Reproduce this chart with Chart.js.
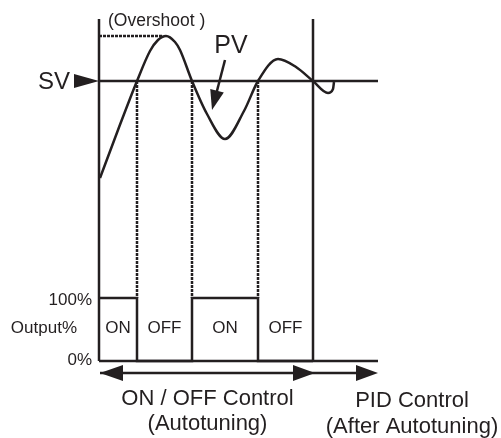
<!DOCTYPE html>
<html>
<head>
<meta charset="utf-8">
<script src="https://cdn.jsdelivr.net/npm/chart.js@4/dist/chart.umd.min.js"></script>
<style>
  html, body { margin: 0; padding: 0; background: #fff; }
  #wrap { width: 501px; height: 438px; }
</style>
</head>
<body>
<div id="wrap"><canvas id="chart"></canvas></div>
<script>
// Tiempos de conmutacion ON/OFF durante el autotuning (unidades de tiempo)
const switchTimes = [0, 3.8, 9.3, 15.9, 21.4];
const outputLevels = [100, 0, 100, 0];      // salida % en cada intervalo
const outputStates = ['ON', 'OFF', 'ON', 'OFF'];
const pidEnd = 27.9;                        // fin del tramo PID
const axisTop = 6.2;                        // extremo superior de los ejes verticales
const svValue = 0;                          // consigna (SV)

// Curva PV (desviacion respecto a SV)
const pvTime  = [0.1, 1.9, 3.8, 5.1, 5.9, 6.7, 7.6, 8.1, 9.3, 10.8, 12.6, 14.5, 15.9, 17.9, 19.7, 21.4, 22.9, 23.4, 23.5];
const pvValue = [-9.7, -4.9, 0, 3.0, 4.1, 4.5, 3.9, 3.1, 0, -3.3, -5.8, -3.0, 0, 2.2, 1.4, 0, -1.2, -0.8, -0.1];

const outTickLabels = ['100%', 'Output%', '0%'];
const phaseLabels = [['ON / OFF Control', '(Autotuning)'], ['PID Control', '(After Autotuning)']];

// Banda de salida dibujada bajo la curva PV
const OUT_ZERO = -28.0;
const OUT_SPAN = 6.3;
function outY(p) { return OUT_ZERO + p / 100 * OUT_SPAN; }

const ink = '#231f20';
const fontFamily = '"Liberation Sans", Arial, Helvetica, sans-serif';

const pvPoints = pvTime.map((t, i) => ({ x: t, y: pvValue[i] }));
const peakIdx = pvValue.indexOf(Math.max(...pvValue));

// Escalones de salida
const outPoints = [];
outputLevels.forEach((lvl, i) => outPoints.push({ x: switchTimes[i], y: outY(lvl) }));
outPoints.push({ x: switchTimes[switchTimes.length - 1], y: outY(outputLevels[outputLevels.length - 1]) });

// Lineas punteadas de SV hasta 100%
const dashPoints = [];
switchTimes.slice(1, -1).forEach(t => {
    dashPoints.push({ x: t, y: svValue }, { x: t, y: outY(100) }, { x: t, y: null });
});

const arrowV = OUT_ZERO - 1.2;

function seg(points, extra) {
    return Object.assign({ data: points, showLine: true, borderColor: ink, borderWidth: 2.5, pointRadius: 0, fill: false }, extra || {});
}

const annotations = {
    id: 'annotations',
    afterDatasetsDraw(chart) {
        const { ctx, scales: { x, y } } = chart;
        const X = t => x.getPixelForValue(t);
        const Y = v => y.getPixelForValue(v);
        ctx.save();
        ctx.fillStyle = ink;
        ctx.strokeStyle = ink;

        function head(tx, ty, dx, dy, len, half) {
            const n = Math.hypot(dx, dy); dx /= n; dy /= n;
            const bx = tx - dx * len, by = ty - dy * len;
            ctx.beginPath();
            ctx.moveTo(tx, ty);
            ctx.lineTo(bx - dy * half, by + dx * half);
            ctx.lineTo(bx + dy * half, by - dx * half);
            ctx.closePath();
            ctx.fill();
        }
        function text(str, px, py, size, align) {
            ctx.font = size + 'px ' + fontFamily;
            ctx.textAlign = align || 'center';
            ctx.textBaseline = 'middle';
            ctx.fillText(str, px, py);
        }

        const x0 = X(switchTimes[0]);
        // SV
        head(x0, Y(svValue), 1, 0, 25, 7);
        text('SV', x0 - 29, Y(svValue) + 1, 24, 'right');

        // Overshoot
        text('(Overshoot )', x0 + 9, Y(pvValue[peakIdx]) - 15, 17.5, 'left');

        // PV con flecha
        const ax = X(12.6), ay = Y(2.1), tx = X(11.3), ty = Y(-2.9);
        ctx.lineWidth = 2.5;
        ctx.beginPath();
        ctx.moveTo(ax, ay);
        ctx.lineTo(tx + (ax - tx) * 0.35, ty + (ay - ty) * 0.35);
        ctx.stroke();
        head(tx, ty, tx - ax, ty - ay, 20, 7);
        text('PV', X(13.2), Y(3.5), 25);

        // Etiquetas de salida
        const mid = (Y(outY(100)) + Y(outY(0))) / 2;
        text(outTickLabels[0], x0 - 7, Y(outY(100)) + 2, 17, 'right');
        text(outTickLabels[1], x0 - 22, mid - 1, 17, 'right');
        text(outTickLabels[2], x0 - 7, Y(outY(0)) - 1, 17, 'right');
        outputStates.forEach((s, i) => {
            text(s, (X(switchTimes[i]) + X(switchTimes[i + 1])) / 2, mid - 1, 17);
        });

        // Flechas inferiores
        const ya = Y(arrowV);
        head(X(0.1), ya, -1, 0, 23, 8);
        head(X(21.6), ya, 1, 0, 22, 8);
        head(X(pidEnd), ya, 1, 0, 22, 8);

        const c1 = (X(0.1) + X(21.6)) / 2;
        text(phaseLabels[0][0], c1, ya + 26, 22);
        text(phaseLabels[0][1], c1, ya + 51, 22);
        const c2 = X(31.3);
        text(phaseLabels[1][0], c2, ya + 28, 22);
        text(phaseLabels[1][1], c2, ya + 54, 22);
        ctx.restore();
    }
};

new Chart(document.getElementById('chart').getContext('2d'), {
    type: 'scatter',
    data: {
        datasets: [
            seg(pvPoints, { cubicInterpolationMode: 'monotone' }),
            seg([{ x: switchTimes[0], y: svValue }, { x: pidEnd, y: svValue }]),
            seg([{ x: switchTimes[0], y: axisTop }, { x: switchTimes[0], y: outY(0) }]),
            seg([{ x: switchTimes[4], y: axisTop }, { x: switchTimes[4], y: outY(0) }]),
            seg([{ x: switchTimes[0], y: outY(0) }, { x: pidEnd, y: outY(0) }]),
            seg(outPoints, { stepped: 'before' }),
            seg(dashPoints, { borderWidth: 2.5, borderDash: [3, 1], spanGaps: false }),
            seg([{ x: switchTimes[0], y: pvValue[peakIdx] }, { x: pvTime[peakIdx] - 0.4, y: pvValue[peakIdx] }], { borderWidth: 2.5, borderDash: [3, 1] }),
            seg([{ x: 0.1, y: arrowV }, { x: pidEnd - 1, y: arrowV }])
        ]
    },
    options: {
        animation: false,
        responsive: true,
        maintainAspectRatio: false,
        layout: { padding: 0 },
        plugins: { legend: { display: false }, tooltip: { enabled: false } },
        scales: {
            x: { type: 'linear', min: -9.9, max: 40.2, display: false },
            y: { type: 'linear', min: -35.7, max: 8.1, display: false }
        }
    },
    plugins: [annotations]
});
</script>
</body>
</html>
